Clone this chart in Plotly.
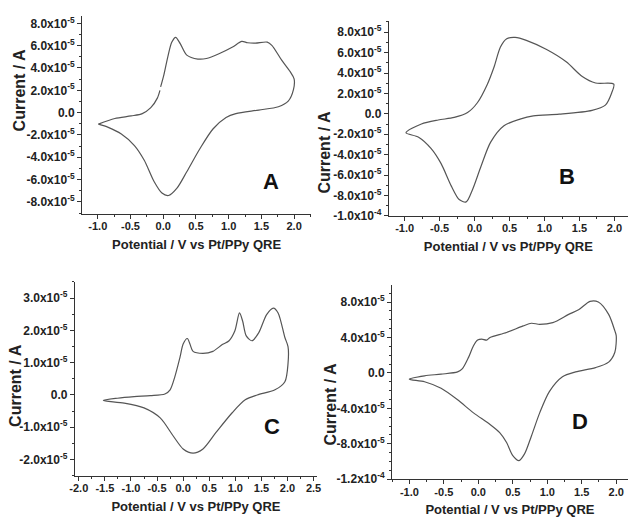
import numpy as np
import plotly.graph_objects as go

# ---------------- data (current in units of 1e-5 A) ----------------
A_V = [-0.99, -0.74, -0.49, -0.32, -0.19, -0.09, -0.05, None, -0.04, 0.01, 0.07, 0.13, 0.19, 0.26, 0.36,
       0.53, 0.66, 0.86, 1.06, 1.20, 1.29, 1.41, 1.59, 1.66, 1.81, 1.94, 2.00,
       1.99, 1.91, 1.76, 1.46, 1.11, 0.96, 0.76, 0.56, 0.36, 0.21, 0.08, -0.02,
       -0.14, -0.29, -0.44, -0.64, -0.84, -0.99]
A_I = [-1.03, -0.53, -0.30, -0.09, 0.44, 1.30, 2.00, None, 2.30, 3.38, 5.00, 6.30, 6.75, 6.18, 5.15,
       4.80, 4.85, 5.30, 5.88, 6.38, 6.26, 6.23, 6.32, 6.03, 4.70, 3.67, 3.03,
       2.06, 1.03, 0.53, 0.23, -0.09, -0.44, -1.47, -3.24, -5.30, -6.77, -7.43, -7.21,
       -6.18, -4.27, -2.95, -1.92, -1.32, -1.03]

B_V = [-0.98, -0.76, -0.52, -0.29, -0.10, 0.04, 0.18, 0.28, 0.37, 0.46, 0.58, 0.74, 1.03,
       1.31, 1.54, 1.73, 1.99, 1.96, 1.87, 1.68, 1.21, 0.84, 0.65, 0.42, 0.23, 0.09,
       -0.03, -0.12, -0.22, -0.33, -0.48, -0.62, -0.80, -0.98]
B_I = [-1.85, -0.99, -0.60, -0.35, 0.13, 1.09, 2.86, 4.62, 6.55, 7.36, 7.49, 7.20, 6.30,
       5.10, 3.66, 3.02, 2.92, 2.05, 0.86, 0.35, -0.03, -0.20, -0.52, -1.16, -2.77, -5.18,
       -7.43, -8.62, -8.39, -7.10, -4.85, -3.40, -2.28, -1.85]

C_V = [-1.53, -1.26, -0.94, -0.63, -0.35, -0.25, -0.16, -0.06, 0.00, 0.08, 0.13, 0.19, 0.38,
       0.57, 0.75, 0.88, 0.99, 1.08, 1.14, 1.21, 1.32, 1.45, 1.60, 1.73, 1.82, 1.95, 2.01,
       2.01, 1.95, 1.76, 1.42, 1.19, 0.94, 0.63, 0.38, 0.19, 0.00, -0.19, -0.44, -0.75,
       -1.13, -1.53]
C_I = [-0.17, -0.10, -0.05, -0.02, 0.03, 0.16, 0.56, 1.17, 1.58, 1.75, 1.58, 1.35, 1.29,
       1.35, 1.56, 1.68, 1.98, 2.54, 2.29, 1.83, 1.68, 1.93, 2.49, 2.69, 2.54, 1.78, 1.50,
       0.97, 0.41, 0.16, 0.00, -0.15, -0.55, -1.16, -1.67, -1.80, -1.67, -1.27, -0.71, -0.40,
       -0.25, -0.17]

D_V = [-1.00, -0.78, -0.54, -0.30, -0.23, -0.14, -0.07, -0.01, 0.05, 0.12, 0.17, 0.41, 0.65,
       0.77, 0.89, 1.08, 1.31, 1.46, 1.62, 1.74, 1.89, 1.98, 2.00, 1.98, 1.89, 1.70, 1.41,
       1.22, 1.03, 0.89, 0.77, 0.67, 0.59, 0.50, 0.41, 0.31, 0.17, -0.07, -0.30, -0.54,
       -0.78, -1.00]
D_I = [-0.70, -0.33, -0.14, 0.11, 0.48, 1.78, 3.07, 3.70, 3.81, 3.70, 4.00, 4.56, 5.30,
       5.60, 5.48, 5.67, 6.60, 7.15, 8.07, 8.00, 6.60, 4.74, 4.19, 2.33, 1.22, 0.60, 0.11,
       -0.44, -2.11, -4.51, -7.11, -9.14, -9.89, -9.33, -7.85, -6.73, -5.81, -4.51, -3.04,
       -1.74, -1.00, -0.70]

A_yticks = [-8, -6, -4, -2, 0, 2, 4, 6, 8]
B_yticks = [-10, -8, -6, -4, -2, 0, 2, 4, 6, 8]
C_yticks = [-2, -1, 0, 1, 2, 3]
D_yticks = [-12, -8, -4, 0, 4, 8]
ABD_xticks = [-1.0, -0.5, 0.0, 0.5, 1.0, 1.5, 2.0]
C_xticks = [-2.0, -1.5, -1.0, -0.5, 0.0, 0.5, 1.0, 1.5, 2.0, 2.5]
panel_labels = ["A", "B", "C", "D"]
x_title = "Potential / V vs Pt/PPy QRE"
y_title = "Current / A"

SCALE = 1e-5


def ylabel(v):
    if v == 0:
        return "0.0"
    val = v * SCALE
    exp = int(np.floor(np.log10(abs(val))))
    mant = val / 10 ** exp
    return f"{mant:.1f}x10<sup>{exp}</sup>"


FONT = "Liberation Sans, Arial, sans-serif"
LINE = "#555555"

fig = go.Figure()

panels = [
    dict(V=A_V, I=A_I, yt=A_yticks, xt=ABD_xticks, xr=[-1.24, 2.26], yr=[-9.06, 8.68],
         xd=[77.3, 310], yd=[15, 216], ymin=1, xmin=0.25, lab=(1.64, -6.13), yt_pos=(14, 90)),
    dict(V=B_V, I=B_I, yt=B_yticks, xt=ABD_xticks, xr=[-1.225, 2.19], yr=[-10.0, 9.06],
         xd=[389, 631.7], yd=[20.7, 218.3], ymin=1, xmin=0.25, lab=(1.32, -6.14), yt_pos=(324, 153)),
    dict(V=C_V, I=C_I, yt=C_yticks, xt=C_xticks, xr=[-2.075, 2.566], yr=[-2.506, 3.51],
         xd=[70, 316], yd=[285, 482.3], ymin=0.5, xmin=0.25, lab=(1.70, -0.96), yt_pos=(9, 390)),
    dict(V=D_V, I=D_I, yt=D_yticks, xt=ABD_xticks, xr=[-1.25, 2.167], yr=[-12.0, 9.93],
         xd=[392.3, 631.7], yd=[288.3, 485.7], ymin=1, xmin=0.25, lab=(1.48, -5.44), yt_pos=(330, 409)),
]

W, H = 635, 523
layout = {}
for k, p in enumerate(panels):
    s = "" if k == 0 else str(k + 1)
    I = [None if v is None else v * SCALE for v in p["I"]]
    fig.add_trace(go.Scatter(x=p["V"], y=I, mode="lines", xaxis="x" + s, yaxis="y" + s,
                             line=dict(color=LINE, width=1.2, shape="spline", smoothing=0.8),
                             connectgaps=False, showlegend=False, hoverinfo="skip"))
    xdom = [p["xd"][0] / W, p["xd"][1] / W]
    ydom = [1 - p["yd"][1] / H, 1 - p["yd"][0] / H]
    layout["xaxis" + s] = dict(
        domain=xdom, range=p["xr"], anchor="y" + s, showgrid=False, zeroline=False,
        showline=True, linecolor="#333", linewidth=1.2, ticks="outside", ticklen=4,
        tickwidth=1, tickcolor="#333", tickvals=p["xt"], ticktext=[f"{v:.1f}" for v in p["xt"]],
        ticklabelstandoff=-2,
        tickfont=dict(family=FONT, size=11, color="#222", weight="bold"),
        minor=dict(ticks="outside", ticklen=2, dtick=p["xmin"], tickcolor="#333", showgrid=False),
        title=dict(text=x_title, standoff=8,
                   font=dict(family=FONT, size=13, color="#222", weight="bold")),
    )
    layout["yaxis" + s] = dict(
        domain=ydom, range=[p["yr"][0] * SCALE, p["yr"][1] * SCALE], anchor="x" + s,
        showgrid=False, zeroline=False, showline=True, linecolor="#333", linewidth=1.2,
        ticks="outside", ticklen=4, tickwidth=1, tickcolor="#333",
        tickvals=[v * SCALE for v in p["yt"]], ticktext=[ylabel(v) for v in p["yt"]],
        tickfont=dict(family=FONT, size=12, color="#222", weight="bold"),
        minor=dict(ticks="outside", ticklen=2, dtick=p["ymin"] * SCALE, tickcolor="#333",
                   showgrid=False),
    )
    fig.add_annotation(x=p["yt_pos"][0] / W, y=1 - p["yt_pos"][1] / H, xref="paper", yref="paper",
                       text=y_title, textangle=-90, showarrow=False, xanchor="center",
                       yanchor="middle",
                       font=dict(family=FONT, size=16, color="#222", weight="bold"))
    fig.add_annotation(x=p["lab"][0], y=p["lab"][1] * SCALE, xref="x" + s, yref="y" + s,
                       text=panel_labels[k], showarrow=False,
                       font=dict(family=FONT, size=22, color="#111", weight="bold"))

fig.update_layout(width=W, height=H, margin=dict(l=0, r=0, t=0, b=0),
                  paper_bgcolor="white", plot_bgcolor="white", **layout)
fig.write_html("out.html", config={"displayModeBar": False},
               post_script="document.body.style.margin='0';document.body.style.overflow='hidden';")
